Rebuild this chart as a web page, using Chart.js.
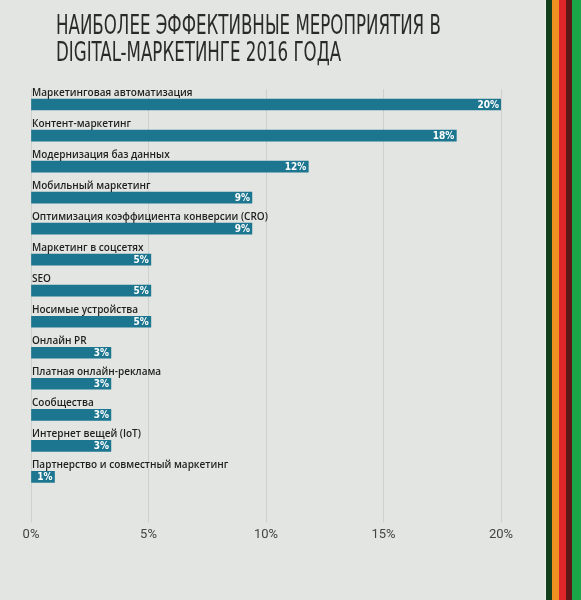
<!DOCTYPE html>
<html lang="ru">
<head>
<meta charset="utf-8">
<script src="https://cdn.jsdelivr.net/npm/chart.js@4"></script>
<style>
  html, body { margin: 0; padding: 0; }
  body { width: 581px; height: 600px; background: #e3e5e2; position: relative; overflow: hidden; }
  #wrap { position: absolute; left: 0; top: 0; width: 581px; height: 600px; }
  #titulo {
    position: absolute; left: 56px; top: 12px; margin: 0;
    font-family: "DejaVu Sans Condensed", sans-serif;
    font-weight: normal; font-size: 26px; line-height: 27px; color: #2a2a2a;
    white-space: nowrap; transform-origin: 0 0;
  }
  #titulo span { display: inline-block; }
  #faixas {
    position: absolute; left: 545px; top: 0; width: 36px; height: 600px;
    background: linear-gradient(to right,
      #eef0ec 0px, #eef0ec 1px,
      #123f1c 1px, #123f1c 7px,
      #ef9120 7px, #ef9120 14px,
      #dd2629 14px, #dd2629 21px,
      #5c1716 21px, #5c1716 27px,
      #1aa548 27px, #1aa548 36px);
  }
</style>
</head>
<body>
<div id="wrap"><canvas id="grafico" width="581" height="600"></canvas></div>
<h1 id="titulo"><span id="linha1">НАИБОЛЕЕ ЭФФЕКТИВНЫЕ МЕРОПРИЯТИЯ В</span><br><span>DIGITAL-МАРКЕТИНГЕ 2016 ГОДА</span></h1>
<div id="faixas"></div>
<script>
const categorias = [
    'Маркетинговая автоматизация',
    'Контент-маркетинг',
    'Модернизация баз данных',
    'Мобильный маркетинг',
    'Оптимизация коэффициента конверсии (CRO)',
    'Маркетинг в соцсетях',
    'SEO',
    'Носимые устройства',
    'Онлайн PR',
    'Платная онлайн-реклама',
    'Сообщества',
    'Интернет вещей (IoT)',
    'Партнерство и совместный маркетинг'
];
// длина полос, как они нарисованы на картинке (в %)
const valores = [20, 18.1, 11.8, 9.4, 9.4, 5.1, 5.1, 5.1, 3.4, 3.4, 3.4, 3.4, 1];
// подписи на концах полос
const rotulos = ['20%', '18%', '12%', '9%', '9%', '5%', '5%', '5%', '3%', '3%', '3%', '3%', '1%'];
const ticksX = [0, 5, 10, 15, 20];

// заголовок узкий, как в оригинале
const linha1 = document.getElementById('linha1');
document.getElementById('titulo').style.transform = 'scaleX(' + (385 / linha1.offsetWidth) + ')';

const rotulosPlugin = {
    id: 'rotulos',
    afterDatasetsDraw(chart) {
        const c = chart.ctx;
        const meta = chart.getDatasetMeta(0);
        c.save();
        meta.data.forEach((barra, i) => {
            // название над полосой
            c.font = '600 10px "Open Sans", sans-serif';
            c.fillStyle = '#1f1f1f';
            c.textAlign = 'left';
            c.textBaseline = 'alphabetic';
            c.fillText(categorias[i], chart.chartArea.left + 1, barra.y - barra.height / 2 - 3);
            // значение внутри полосы
            c.font = 'bold 10px "DejaVu Sans Condensed", sans-serif';
            c.fillStyle = '#ffffff';
            c.textAlign = 'right';
            c.textBaseline = 'middle';
            c.fillText(rotulos[i], barra.x - 2, barra.y + 1);
        });
        c.restore();
    }
};

const ctx = document.getElementById('grafico').getContext('2d');
const grafico = new Chart(ctx, {
    type: 'bar',
    data: {
        labels: categorias,
        datasets: [{
            data: valores,
            backgroundColor: '#1c7690',
            barThickness: 11,
            borderWidth: 0
        }]
    },
    options: {
        indexAxis: 'y',
        responsive: false,
        animation: false,
        layout: { padding: { left: 31, right: 80, top: 89, bottom: 52 } },
        plugins: {
            legend: { display: false },
            tooltip: { enabled: false }
        },
        scales: {
            y: { display: false },
            x: {
                min: 0,
                max: 20,
                afterBuildTicks: (axis) => { axis.ticks = ticksX.map(v => ({ value: v })); },
                grid: { color: '#cdd1ce', lineWidth: 1, tickLength: 30, drawTicks: true },
                border: { display: false },
                ticks: {
                    padding: 5,
                    color: '#444444',
                    font: { family: 'Roboto, sans-serif', size: 13 },
                    callback: v => v + '%'
                }
            }
        }
    },
    plugins: [rotulosPlugin]
});
</script>
</body>
</html>
